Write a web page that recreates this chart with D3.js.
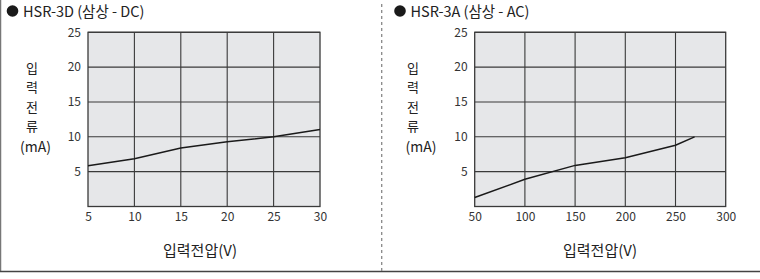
<!DOCTYPE html>
<html><head><meta charset="utf-8">
<script src="https://cdn.jsdelivr.net/npm/d3@7"></script>
<style>
html,body{margin:0;padding:0;background:#fff;}
svg{display:block;font-family:"Noto Sans CJK KR","Noto Sans",sans-serif;}
</style></head>
<body>
<svg id="c" width="760" height="279"></svg>
<script>
const yTicks = [5, 10, 15, 20, 25];
const dcTitle = "HSR-3D (삼상 - DC)";
const dcXTicks = [5, 10, 15, 20, 25, 30];
const dcVoltage = [5, 10, 15, 20, 25, 30];
const dcCurrent = [5.85, 6.85, 8.4, 9.3, 10.0, 11.05];
const acTitle = "HSR-3A (삼상 - AC)";
const acXTicks = [50, 100, 150, 200, 250, 300];
const acVoltage = [50, 100, 150, 200, 250, 269];
const acCurrent = [1.3, 3.9, 5.9, 7.0, 8.8, 10.0];
const yLabelChars = ["입", "력", "전", "류", "(mA)"];
const xLabel = "입력전압(V)";

const svg = d3.select("#c");

svg.append("line").attr("x1", 0.5).attr("x2", 0.5).attr("y1", 0).attr("y2", 271)
  .attr("stroke", "#777").attr("stroke-width", 1.5);
svg.append("line").attr("x1", 0).attr("x2", 760).attr("y1", 271.5).attr("y2", 271.5)
  .attr("stroke", "#444").attr("stroke-width", 1.5);
svg.append("line").attr("x1", 381.7).attr("x2", 381.7).attr("y1", 4).attr("y2", 271)
  .attr("stroke", "#888").attr("stroke-width", 1.3).attr("stroke-dasharray", "3,3");

function panel(title, xDomain, xRange, xTicks, xs, ys, charX, maX, xlabX, bulletX) {
  const g = svg.append("g");
  const x = d3.scaleLinear().domain(xDomain).range(xRange);
  const y = d3.scaleLinear().domain([0, 25]).range([206.5, 32.3]);

  g.append("circle").attr("cx", bulletX).attr("cy", 11).attr("r", 5.8).attr("fill", "#1a1a1a");
  g.append("text").attr("x", bulletX + 10.5).attr("y", 16.5).attr("font-size", 14.5)
    .attr("fill", "#222").text(title);

  g.append("rect").attr("x", xRange[0]).attr("y", y(25))
    .attr("width", xRange[1] - xRange[0]).attr("height", y(0) - y(25))
    .attr("fill", "#e6e7e9");

  g.selectAll(".hx").data(yTicks).enter().append("line")
    .attr("x1", xRange[0]).attr("x2", xRange[1])
    .attr("y1", d => y(d)).attr("y2", d => y(d))
    .attr("stroke", "#3a3a3a").attr("stroke-width", 1.1);
  g.selectAll(".vx").data(xTicks.slice(1, -1)).enter().append("line")
    .attr("x1", d => x(d)).attr("x2", d => x(d))
    .attr("y1", y(25)).attr("y2", y(0))
    .attr("stroke", "#3a3a3a").attr("stroke-width", 1.1);
  g.append("rect").attr("x", xRange[0]).attr("y", y(25))
    .attr("width", xRange[1] - xRange[0]).attr("height", y(0) - y(25))
    .attr("fill", "none").attr("stroke", "#3a3a3a").attr("stroke-width", 1.3);

  const yAxis = d3.axisLeft(y).tickValues(yTicks).tickSize(0).tickPadding(7);
  const ya = g.append("g").attr("transform", `translate(${xRange[0]},0)`).call(yAxis);
  ya.select(".domain").remove();
  ya.selectAll("text").attr("font-size", 12).attr("fill", "#333")
    .attr("font-family", "'Noto Sans CJK KR','Noto Sans',sans-serif");

  const xAxis = d3.axisBottom(x).tickValues(xTicks).tickSize(0).tickPadding(6);
  const xa = g.append("g").attr("transform", `translate(0,${y(0)})`).call(xAxis);
  xa.select(".domain").remove();
  xa.selectAll("text").attr("font-size", 12).attr("fill", "#333")
    .attr("font-family", "'Noto Sans CJK KR','Noto Sans',sans-serif");

  const pts = xs.map((v, i) => [v, ys[i]]);
  g.append("path").datum(pts)
    .attr("d", d3.line().x(d => x(d[0])).y(d => y(d[1])))
    .attr("fill", "none").attr("stroke", "#1a1a1a").attr("stroke-width", 1.5);

  const ys0 = [73, 92.3, 111.6, 130.9, 151.5];
  g.selectAll(".yl").data(yLabelChars).enter().append("text")
    .attr("x", (d, i) => i < 4 ? charX : maX).attr("y", (d, i) => ys0[i])
    .attr("text-anchor", "middle").attr("font-size", (d, i) => i < 4 ? 13 : 14)
    .attr("fill", "#222").text(d => d);

  g.append("text").attr("x", xlabX).attr("y", 255.5).attr("text-anchor", "middle")
    .attr("font-size", 15).attr("fill", "#222").text(xLabel);
}

panel(dcTitle, [5, 30], [88, 320], dcXTicks, dcVoltage, dcCurrent, 32, 35.5, 200, 12.5);
panel(acTitle, [50, 300], [474.7, 725.7], acXTicks, acVoltage, acCurrent, 413, 421, 600, 400);
</script>
</body></html>
